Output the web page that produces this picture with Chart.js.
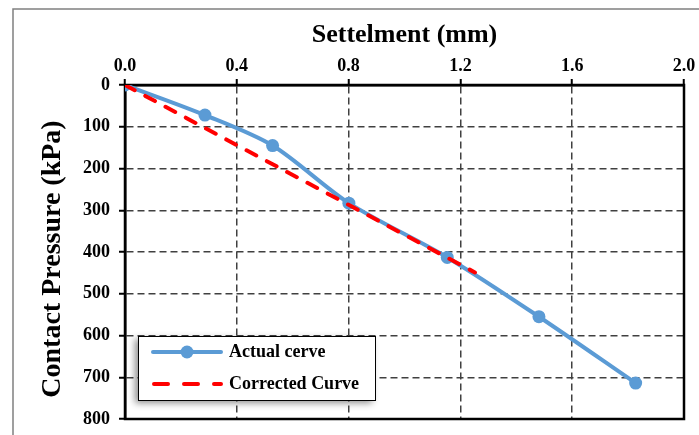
<!DOCTYPE html>
<html>
<head>
<meta charset="utf-8">
<script src="https://cdn.jsdelivr.net/npm/chart.js@4/dist/chart.umd.min.js"></script>
<style>
  html, body { margin: 0; padding: 0; background: #fff; }
  #c { display: block; }
</style>
</head>
<body>
<canvas id="c" width="699" height="435"></canvas>
<script>
// Data
const actualSettlement = [0, 0.286, 0.528, 0.801, 1.153, 1.481, 1.827];
const actualPressure = [0, 72, 145, 283, 413, 555, 714];
const correctedSettlement = [0, 0.4, 0.8, 1.252];
const correctedPressure = [0, 144, 287, 449];
const xTicks = [0, 0.4, 0.8, 1.2, 1.6, 2.0];
const yTicks = [0, 100, 200, 300, 400, 500, 600, 700, 800];
const seriesNames = ["Actual cerve", "Corrected Curve"];

const FONT = "'Liberation Serif', 'Times New Roman', serif";
const BLUE = "#5b9bd5";
const RED = "#ff0000";

function toPoints(xs, ys) {
    return xs.map((x, i) => ({ x: x, y: ys[i] }));
}

// Outer gray frame + plot box
const framePlugin = {
    id: "frame",
    beforeDraw(chart) {
        const ctx = chart.ctx;
        ctx.save();
        ctx.strokeStyle = "#808080";
        ctx.lineWidth = 1.5;
        ctx.beginPath();
        ctx.moveTo(13, 435);
        ctx.lineTo(13, 9);
        ctx.lineTo(699, 9);
        ctx.stroke();
        ctx.restore();
    },
    beforeDatasetsDraw(chart) {
        const a = chart.chartArea;
        const ctx = chart.ctx;
        ctx.save();
        ctx.strokeStyle = "#000";
        ctx.lineWidth = 2.5;
        ctx.strokeRect(a.left, a.top, a.right - a.left, a.bottom - a.top);
        ctx.restore();
    }
};

// Legend box inside the plot
const legendPlugin = {
    id: "boxLegend",
    afterDraw(chart) {
        const ctx = chart.ctx;
        const bx = 138, by = 336, bw = 237, bh = 64;
        ctx.save();
        ctx.shadowColor = "rgba(0,0,0,0.45)";
        ctx.shadowBlur = 7;
        ctx.shadowOffsetX = -3;
        ctx.shadowOffsetY = 3;
        ctx.fillStyle = "#fff";
        ctx.fillRect(bx, by, bw, bh);
        ctx.restore();

        ctx.save();
        ctx.strokeStyle = "#000";
        ctx.lineWidth = 1;
        ctx.strokeRect(bx + 0.5, by + 0.5, bw, bh);

        // Actual cerve
        const y1 = 352, y2 = 384;
        ctx.strokeStyle = BLUE;
        ctx.lineWidth = 4;
        ctx.lineCap = "round";
        ctx.beginPath();
        ctx.moveTo(153, y1);
        ctx.lineTo(221, y1);
        ctx.stroke();
        ctx.fillStyle = BLUE;
        ctx.beginPath();
        ctx.arc(187, y1, 6.5, 0, Math.PI * 2);
        ctx.fill();

        // Corrected Curve
        ctx.strokeStyle = RED;
        ctx.setLineDash([14, 16]);
        ctx.beginPath();
        ctx.moveTo(154, y2);
        ctx.lineTo(221, y2);
        ctx.stroke();
        ctx.setLineDash([]);

        ctx.fillStyle = "#000";
        ctx.font = "bold 18px " + FONT;
        ctx.textBaseline = "middle";
        ctx.textAlign = "left";
        ctx.fillText(seriesNames[0], 229, y1);
        ctx.fillText(seriesNames[1], 229, y2);
        ctx.restore();
    }
};

const ctx = document.getElementById("c").getContext("2d");
new Chart(ctx, {
    type: "line",
    data: {
        datasets: [{
            label: seriesNames[0],
            data: toPoints(actualSettlement, actualPressure),
            borderColor: BLUE,
            backgroundColor: BLUE,
            borderWidth: 4,
            tension: 0.3,
            pointRadius: 6.5,
            pointHoverRadius: 6.5,
            pointBorderWidth: 0,
            order: 2
        }, {
            label: seriesNames[1],
            data: toPoints(correctedSettlement, correctedPressure),
            borderColor: RED,
            borderWidth: 4,
            borderDash: [11, 12],
            borderCapStyle: "round",
            pointRadius: 0,
            tension: 0,
            order: 1
        }]
    },
    options: {
        responsive: false,
        devicePixelRatio: 1,
        animation: false,
        layout: { padding: { left: 0, top: 0, right: 15, bottom: 16 } },
        plugins: {
            legend: { display: false },
            tooltip: { enabled: false }
        },
        scales: {
            x: {
                type: "linear",
                position: "top",
                min: 0,
                max: 2,
                afterFit(scale) {
                    scale.height = 85;
                    scale.paddingLeft = 0;
                    scale.paddingRight = 0;
                },
                afterBuildTicks(scale) { scale.ticks = xTicks.map(v => ({ value: v })); },
                ticks: {
                    callback: v => Number(v).toFixed(1),
                    color: "#000",
                    font: { family: FONT, size: 18, weight: "bold" },
                    padding: 2,
                    maxRotation: 0
                },
                grid: {
                    color: "#404040",
                    lineWidth: 1.5,
                    tickLength: 6,
                    tickColor: "#000",
                    tickWidth: 2,
                    tickBorderDash: []
                },
                border: { display: true, color: "#000", width: 2.5, dash: [7, 4] },
                title: {
                    display: true,
                    text: "Settelment (mm)",
                    color: "#000",
                    font: { family: FONT, size: 26, weight: "bold", lineHeight: 1.2 },
                    padding: { top: 20, bottom: 0 }
                }
            },
            y: {
                type: "linear",
                reverse: true,
                min: 0,
                max: 800,
                afterFit(scale) {
                    scale.width = 125;
                    scale.paddingTop = 0;
                    scale.paddingBottom = 0;
                },
                afterBuildTicks(scale) { scale.ticks = yTicks.map(v => ({ value: v })); },
                ticks: {
                    color: "#000",
                    font: { family: FONT, size: 18, weight: "bold" },
                    padding: 9
                },
                grid: {
                    color: "#404040",
                    lineWidth: 1.5,
                    tickLength: 6,
                    tickColor: "#000",
                    tickWidth: 2,
                    tickBorderDash: []
                },
                border: { display: true, color: "#000", width: 2.5, dash: [7, 4] },
                title: {
                    display: true,
                    text: "Contact Pressure (kPa)  ",
                    color: "#000",
                    font: { family: FONT, size: 28, weight: "bold", lineHeight: 1.2 },
                    padding: { top: 36, bottom: 0 }
                }
            }
        }
    },
    plugins: [framePlugin, legendPlugin]
});
</script>
</body>
</html>
